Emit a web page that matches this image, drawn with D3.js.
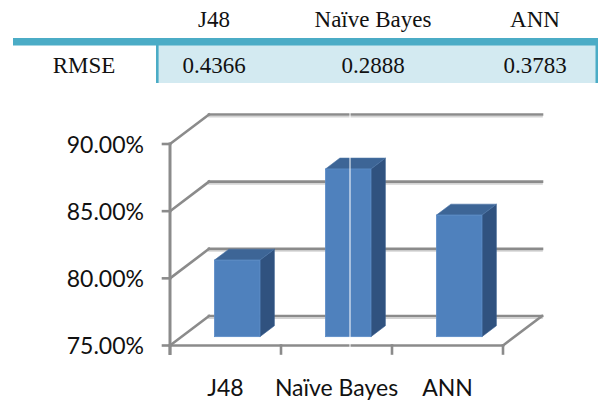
<!DOCTYPE html>
<html>
<head>
<meta charset="utf-8">
<script src="https://cdn.jsdelivr.net/npm/d3@7"></script>
<style>
  html, body { margin: 0; padding: 0; background: #fff; }
  svg { display: block; }
</style>
</head>
<body>
<svg id="chart" width="598" height="400"></svg>
<script>
// Classifier names, RMSE values and accuracy (%) per classifier
const classifiers = ["J48", "Naïve Bayes", "ANN"];
const rmseLabel = "RMSE";
const rmseValues = ["0.4366", "0.2888", "0.3783"];
const accuracy = [80.70, 87.48, 84.05];
const yTicks = [75, 80, 85, 90];

const svg = d3.select("#chart");

// ---------- RMSE table ----------
const tableCols = d3.scalePoint().domain([rmseLabel, ...classifiers]).range([84, 535]);
const colX = { [rmseLabel]: 84, "J48": 214, "Naïve Bayes": 373, "ANN": 535 };
const table = svg.append("g").attr("font-family", "'Liberation Serif', 'Times New Roman', serif")
  .attr("font-size", 23).attr("fill", "#111");

table.append("rect").attr("x", 157).attr("y", 45).attr("width", 441).attr("height", 38).attr("fill", "#d3eaf1");
table.append("rect").attr("x", 13).attr("y", 38).attr("width", 585).attr("height", 7.5).attr("fill", "#4bacc6");
table.append("rect").attr("x", 156).attr("y", 45).attr("width", 2.6).attr("height", 38).attr("fill", "#4bacc6");
table.append("rect").attr("x", 595.5).attr("y", 45).attr("width", 2.5).attr("height", 38).attr("fill", "#4bacc6");

table.selectAll("text.head").data(classifiers).join("text")
  .attr("class", "head").attr("x", d => colX[d]).attr("y", 27)
  .attr("text-anchor", "middle").text(d => d);
table.append("text").attr("x", colX[rmseLabel]).attr("y", 73).attr("text-anchor", "middle").text(rmseLabel);
table.selectAll("text.val").data(rmseValues).join("text")
  .attr("class", "val").attr("x", (d, i) => colX[classifiers[i]]).attr("y", 73)
  .attr("text-anchor", "middle").text(d => d);

// ---------- 3D column chart ----------
const x = d3.scaleBand().domain(classifiers).range([170, 503]).paddingInner(0).paddingOuter(0);
const y = d3.scaleLinear().domain([75, 90]).range([345.5, 144]);
const depthX = 39, depthY = -29.5;
// project a front-plane point back into the depth by fraction z
const P = (px, py, z) => [px + depthX * z, py + depthY * z];

const grid = svg.append("g");
const gridColor = "#8b8b8b", shadowColor = "#d4d4d4";
const line = (g, a, b, color, w) => g.append("line")
  .attr("x1", a[0]).attr("y1", a[1]).attr("x2", b[0]).attr("y2", b[1])
  .attr("stroke", color).attr("stroke-width", w).attr("stroke-linecap", "square");

const xLeft = x.range()[0], xRight = x.range()[1];

// soft shadows under the wall lines
yTicks.forEach(t => {
  line(grid, P(xLeft, y(t) + 2.2, 1), P(xRight, y(t) + 2.2, 1), shadowColor, 1.6);
});
// back wall gridlines and left wall diagonals
yTicks.forEach(t => {
  line(grid, P(xLeft, y(t), 1), P(xRight, y(t), 1), gridColor, 2.6);
  line(grid, P(xLeft, y(t), 0), P(xLeft, y(t), 1), gridColor, 2.6);
  // y tick
  line(grid, [xLeft - 7, y(t)], [xLeft, y(t)], gridColor, 2.6);
});
// floor edges
line(grid, P(xLeft, y(75), 0), P(xRight, y(75), 0), gridColor, 2.6);
line(grid, P(xRight, y(75), 0), P(xRight, y(75), 1), gridColor, 2.6);
// front vertical axis
line(grid, [xLeft, y(90)], [xLeft, y(75) + 8], gridColor, 3);
// category ticks
const xTickPos = [xLeft, ...classifiers.map(c => x(c) + x.bandwidth())];
xTickPos.forEach(px => line(grid, [px, y(75)], [px, y(75) + 8], gridColor, 2.6));

// bars
const z0 = 0.3, z1 = 0.67;
const barW = x.bandwidth() * 0.41;
const bars = svg.append("g");
classifiers.forEach((c, i) => {
  const cx = x(c) + x.bandwidth() / 2;
  const xl = cx - barW / 2, xr = cx + barW / 2;
  const yt = y(accuracy[i]), yb = y(75);
  const f = (px, py, z) => P(px, py, z).join(",");
  // right side
  bars.append("polygon")
    .attr("points", [f(xr, yt, z0), f(xr, yt, z1), f(xr, yb, z1), f(xr, yb, z0)].join(" "))
    .attr("fill", "#30527f").attr("stroke", "#3a6090").attr("stroke-width", 0.6);
  // top
  bars.append("polygon")
    .attr("points", [f(xl, yt, z0), f(xr, yt, z0), f(xr, yt, z1), f(xl, yt, z1)].join(" "))
    .attr("fill", "#3d6596").attr("stroke", "#4a74a6").attr("stroke-width", 0.6);
  // front
  const p0 = P(xl, yt, z0), p1 = P(xr, yb, z0);
  bars.append("rect")
    .attr("x", p0[0]).attr("y", p0[1]).attr("width", p1[0] - p0[0]).attr("height", p1[1] - p0[1])
    .attr("fill", "#4f81bd").attr("stroke", "#5b8cc7").attr("stroke-width", 0.8);
});

// thin divider at the plot center
svg.append("line").attr("x1", 350).attr("x2", 350).attr("y1", 112).attr("y2", 348)
  .attr("stroke", "#ffffff").attr("stroke-width", 1.2).attr("opacity", 0.85);

// axis labels
const labels = svg.append("g").attr("font-family", "Lato, 'Open Sans', sans-serif")
  .attr("font-size", 23).attr("fill", "#111");
labels.selectAll("text.ytick").data(yTicks).join("text")
  .attr("class", "ytick").attr("x", 144).attr("y", d => y(d) + 8.5)
  .attr("text-anchor", "end").text(d => d3.format(".2f")(d) + "%");
labels.selectAll("text.xtick").data(classifiers).join("text")
  .attr("class", "xtick").attr("x", d => x(d) + x.bandwidth() / 2).attr("y", 396)
  .attr("text-anchor", "middle").text(d => d);
</script>
</body>
</html>
